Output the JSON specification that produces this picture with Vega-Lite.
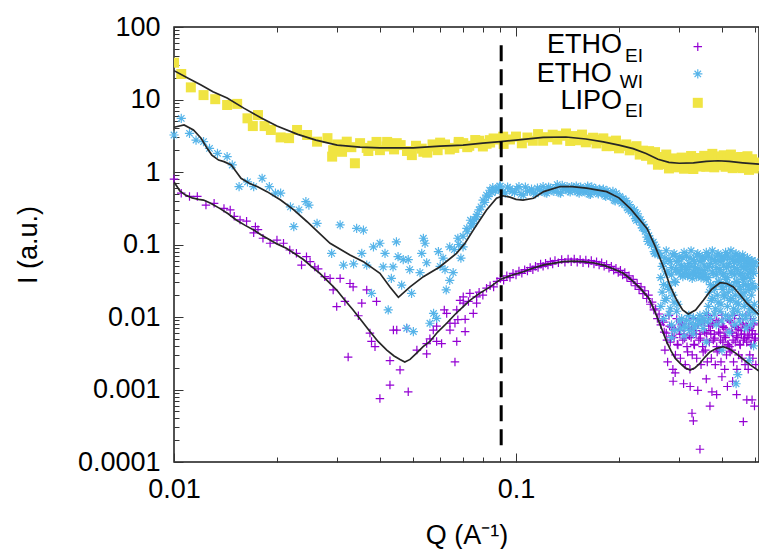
{
"$schema": "https://vega.github.io/schema/vega-lite/v6.json",
"width": 585, "height": 435,
"autosize": "none",
"padding": {"left": 174, "top": 27, "right": 0, "bottom": 87},
"background": "white",
"config": {"font": "Liberation Sans", "view": {"stroke": "#1a1a1a", "strokeWidth": 1.5},
  "axis": {"labelFont": "Liberation Sans", "labelFontSize": 27, "titleFont": "Liberation Sans", "titleFontSize": 27, "titleFontWeight": "normal", "labelColor": "#000", "titleColor": "#000", "grid": false, "domain": false, "tickColor": "#333", "tickWidth": 1}},
"datasets": {
"ei": [
{"q":0.0100,"i":0.80},{"q":0.0105,"i":0.51},{"q":0.0111,"i":0.46},{"q":0.0117,"i":0.46},{"q":0.0124,"i":0.35},{"q":0.0131,"i":0.37},{"q":0.0140,"i":0.315},{"q":0.0146,"i":0.30},{"q":0.0150,"i":0.245},{"q":0.0156,"i":0.218},{"q":0.0163,"i":0.21},{"q":0.0171,"i":0.145},{"q":0.0173,"i":0.176},{"q":0.0176,"i":0.16},{"q":0.0182,"i":0.122},{"q":0.0191,"i":0.104},{"q":0.0200,"i":0.115},{"q":0.0209,"i":0.104},{"q":0.0218,"i":0.084},{"q":0.0228,"i":0.0755},{"q":0.0236,"i":0.052},{"q":0.0244,"i":0.068},{"q":0.0250,"i":0.058},{"q":0.0258,"i":0.049},{"q":0.0264,"i":0.046},{"q":0.0276,"i":0.036},{"q":0.0286,"i":0.034},{"q":0.0292,"i":0.0236},{"q":0.0299,"i":0.0139},{"q":0.0306,"i":0.034},{"q":0.0316,"i":0.0164},{"q":0.0323,"i":0.0028},{"q":0.0327,"i":0.029},{"q":0.0334,"i":0.026},{"q":0.0346,"i":0.0104},{"q":0.0354,"i":0.0155},{"q":0.0366,"i":0.0236},{"q":0.0374,"i":0.006},{"q":0.0378,"i":0.0046},{"q":0.0387,"i":0.0039},{"q":0.0391,"i":0.0164},{"q":0.0400,"i":0.00075},{"q":0.0428,"i":0.00115},{"q":0.0428,"i":0.0025},{"q":0.0438,"i":0.0066},{"q":0.0448,"i":0.0066},{"q":0.0458,"i":0.00186},{"q":0.0479,"i":0.007},{"q":0.0484,"i":0.00093},{"q":0.0513,"i":0.0035},{"q":0.0548,"i":0.0031},{"q":0.0548,"i":0.0043},{"q":0.0560,"i":0.005},{"q":0.0573,"i":0.0066},{"q":0.0586,"i":0.0046},{"q":0.0586,"i":0.0075},{"q":0.0606,"i":0.0043},{"q":0.0617,"i":0.0125},{"q":0.0627,"i":0.0112},{"q":0.0641,"i":0.0066},{"q":0.0641,"i":0.0082},{"q":0.0663,"i":0.0082},{"q":0.0663,"i":0.0024},{"q":0.0671,"i":0.0046},{"q":0.0671,"i":0.0125},{"q":0.0676,"i":0.0092},{"q":0.0686,"i":0.017},{"q":0.0701,"i":0.019},{"q":0.0701,"i":0.0155},{"q":0.0710,"i":0.0093},{"q":0.0710,"i":0.0063},{"q":0.0726,"i":0.0164},{"q":0.0733,"i":0.0212},{"q":0.0750,"i":0.0112},{"q":0.0767,"i":0.019},{"q":0.0767,"i":0.0155},
{"q":0.078,"i":0.022},{"q":0.080,"i":0.020},{"q":0.082,"i":0.025},{"q":0.084,"i":0.027},{"q":0.086,"i":0.026},{"q":0.088,"i":0.031},{"q":0.090,"i":0.034},{"q":0.092,"i":0.032},{"q":0.094,"i":0.037},{"q":0.096,"i":0.035},{"q":0.098,"i":0.040},{"q":0.100,"i":0.038},{"q":0.102,"i":0.043},{"q":0.104,"i":0.040},{"q":0.106,"i":0.045},{"q":0.108,"i":0.043},{"q":0.110,"i":0.048},{"q":0.112,"i":0.045},{"q":0.114,"i":0.050},{"q":0.116,"i":0.048},{"q":0.118,"i":0.054},{"q":0.120,"i":0.050},{"q":0.122,"i":0.055},{"q":0.124,"i":0.052},{"q":0.126,"i":0.058},{"q":0.128,"i":0.054},{"q":0.130,"i":0.060},{"q":0.133,"i":0.056},{"q":0.136,"i":0.062},{"q":0.139,"i":0.057},{"q":0.142,"i":0.063},{"q":0.145,"i":0.058},{"q":0.148,"i":0.063},{"q":0.151,"i":0.057},{"q":0.154,"i":0.062},{"q":0.157,"i":0.056},{"q":0.160,"i":0.061},{"q":0.163,"i":0.055},{"q":0.166,"i":0.060},{"q":0.169,"i":0.054},{"q":0.172,"i":0.058},{"q":0.175,"i":0.052},{"q":0.178,"i":0.056},{"q":0.181,"i":0.050},{"q":0.184,"i":0.053},{"q":0.187,"i":0.047},{"q":0.190,"i":0.050},{"q":0.193,"i":0.044},{"q":0.196,"i":0.047},{"q":0.199,"i":0.041},{"q":0.202,"i":0.044},{"q":0.205,"i":0.038},{"q":0.208,"i":0.041},{"q":0.211,"i":0.035},{"q":0.214,"i":0.037},{"q":0.217,"i":0.031},{"q":0.220,"i":0.033},{"q":0.223,"i":0.027},{"q":0.226,"i":0.029},{"q":0.229,"i":0.024},{"q":0.232,"i":0.026},{"q":0.235,"i":0.021},{"q":0.238,"i":0.023},{"q":0.241,"i":0.018},{"q":0.244,"i":0.020},{"q":0.247,"i":0.015},{"q":0.250,"i":0.016},{"q":0.253,"i":0.0125},{"q":0.256,"i":0.013},{"q":0.259,"i":0.0095},{"q":0.262,"i":0.011},{"q":0.265,"i":0.0078},{"q":0.268,"i":0.009},
{"q":0.270,"i":0.0085},{"q":0.2725,"i":0.0035},{"q":0.2712,"i":0.0062},
{"q":0.275,"i":0.006},{"q":0.2775,"i":0.0024},{"q":0.2762,"i":0.0048},
{"q":0.280,"i":0.0105},{"q":0.2825,"i":0.0045},{"q":0.2812,"i":0.0075},
{"q":0.285,"i":0.0072},{"q":0.2875,"i":0.0019},{"q":0.2862,"i":0.0055},
{"q":0.290,"i":0.0052},{"q":0.2925,"i":0.003},{"q":0.2912,"i":0.0068},
{"q":0.295,"i":0.0095},{"q":0.2975,"i":0.0041},{"q":0.2962,"i":0.0042},
{"q":0.300,"i":0.0065},{"q":0.3025,"i":0.0027},{"q":0.3012,"i":0.0058},
{"q":0.305,"i":0.0078},{"q":0.3075,"i":0.0048},{"q":0.3062,"i":0.0082},
{"q":0.310,"i":0.0058},{"q":0.3125,"i":0.0022},{"q":0.3112,"i":0.0051},
{"q":0.315,"i":0.009},{"q":0.3175,"i":0.0033},{"q":0.3162,"i":0.0039},
{"q":0.320,"i":0.0072},{"q":0.3225,"i":0.0019},{"q":0.3212,"i":0.0055},
{"q":0.325,"i":0.0052},{"q":0.3275,"i":0.003},{"q":0.3262,"i":0.0068},
{"q":0.330,"i":0.0095},{"q":0.3325,"i":0.0041},{"q":0.3312,"i":0.0042},
{"q":0.335,"i":0.0065},{"q":0.3375,"i":0.0027},{"q":0.3362,"i":0.0058},
{"q":0.340,"i":0.0078},{"q":0.3425,"i":0.0048},{"q":0.3412,"i":0.0082},
{"q":0.345,"i":0.0058},{"q":0.3475,"i":0.0022},{"q":0.3462,"i":0.0051},
{"q":0.350,"i":0.009},{"q":0.3525,"i":0.0033},{"q":0.3512,"i":0.0039},
{"q":0.355,"i":0.0085},{"q":0.3575,"i":0.0035},{"q":0.3562,"i":0.0062},
{"q":0.360,"i":0.006},{"q":0.3625,"i":0.0024},{"q":0.3612,"i":0.0048},
{"q":0.365,"i":0.0105},{"q":0.3675,"i":0.0045},{"q":0.3662,"i":0.0075},
{"q":0.370,"i":0.0065},{"q":0.3725,"i":0.0027},{"q":0.3712,"i":0.0058},
{"q":0.375,"i":0.0078},{"q":0.3775,"i":0.0048},{"q":0.3762,"i":0.0082},
{"q":0.380,"i":0.0058},{"q":0.3825,"i":0.0022},{"q":0.3812,"i":0.0051},
{"q":0.385,"i":0.009},{"q":0.3875,"i":0.0033},{"q":0.3862,"i":0.0039},
{"q":0.390,"i":0.0085},{"q":0.3925,"i":0.0035},{"q":0.3912,"i":0.0062},
{"q":0.395,"i":0.006},{"q":0.3975,"i":0.0024},{"q":0.3962,"i":0.0048},
{"q":0.400,"i":0.0105},{"q":0.4025,"i":0.0045},{"q":0.4012,"i":0.0075},
{"q":0.405,"i":0.0072},{"q":0.4075,"i":0.0019},{"q":0.4062,"i":0.0055},
{"q":0.410,"i":0.0052},{"q":0.4125,"i":0.003},{"q":0.4112,"i":0.0068},
{"q":0.415,"i":0.0095},{"q":0.4175,"i":0.0041},{"q":0.4162,"i":0.0042},
{"q":0.420,"i":0.009},{"q":0.4225,"i":0.0033},{"q":0.4212,"i":0.0039},
{"q":0.425,"i":0.0085},{"q":0.4275,"i":0.0035},{"q":0.4262,"i":0.0062},
{"q":0.430,"i":0.006},{"q":0.4325,"i":0.0024},{"q":0.4312,"i":0.0048},
{"q":0.435,"i":0.0105},{"q":0.4375,"i":0.0045},{"q":0.4362,"i":0.0075},
{"q":0.440,"i":0.0072},{"q":0.4425,"i":0.0019},{"q":0.4412,"i":0.0055},
{"q":0.445,"i":0.0052},{"q":0.4475,"i":0.003},{"q":0.4462,"i":0.0068},
{"q":0.450,"i":0.0095},{"q":0.4525,"i":0.0041},{"q":0.4512,"i":0.0042},
{"q":0.455,"i":0.0065},{"q":0.4575,"i":0.0027},{"q":0.4562,"i":0.0058},
{"q":0.460,"i":0.0078},{"q":0.4625,"i":0.0048},{"q":0.4612,"i":0.0082},
{"q":0.465,"i":0.0058},{"q":0.4675,"i":0.0022},{"q":0.4662,"i":0.0051},
{"q":0.470,"i":0.0105},{"q":0.4725,"i":0.0045},{"q":0.4712,"i":0.0075},
{"q":0.475,"i":0.0072},{"q":0.4775,"i":0.0019},{"q":0.4762,"i":0.0055},
{"q":0.480,"i":0.0052},{"q":0.4825,"i":0.003},{"q":0.4812,"i":0.0068},
{"q":0.485,"i":0.0095},{"q":0.4875,"i":0.0041},{"q":0.4862,"i":0.0042},
{"q":0.490,"i":0.0065},{"q":0.4925,"i":0.0027},{"q":0.4912,"i":0.0058},
{"q":0.495,"i":0.0078},{"q":0.4975,"i":0.0048},{"q":0.4962,"i":0.0082},
{"q":0.500,"i":0.0058},{"q":0.5025,"i":0.0022},{"q":0.5012,"i":0.0051},
{"q":0.288,"i":0.0013},{"q":0.327,"i":0.00047},{"q":0.330,"i":0.00037},{"q":0.345,"i":0.00015},{"q":0.369,"i":0.00059},{"q":0.462,"i":0.00036},{"q":0.473,"i":0.00072},{"q":0.498,"i":0.00059},{"q":0.309,"i":0.0012},{"q":0.323,"i":0.0011},{"q":0.340,"i":0.00097},{"q":0.374,"i":0.00093},{"q":0.386,"i":0.00085},{"q":0.4416,"i":0.00085},{"q":0.490,"i":0.00072},{"q":0.292,"i":0.0017},{"q":0.400,"i":0.0015},{"q":0.430,"i":0.0013},{"q":0.360,"i":0.0014},{"q":0.415,"i":0.0011}
],
"wi": [
{"q":0.0100,"i":3.24},{"q":0.0105,"i":5.5},{"q":0.0111,"i":3.42},{"q":0.0116,"i":2.76},{"q":0.0122,"i":2.62},{"q":0.0127,"i":2.12},{"q":0.0134,"i":1.81},{"q":0.0143,"i":1.63},{"q":0.0148,"i":1.25},{"q":0.0155,"i":0.63},{"q":0.0164,"i":0.73},{"q":0.0171,"i":0.63},{"q":0.0181,"i":0.82},{"q":0.0190,"i":0.63},{"q":0.0198,"i":0.51},{"q":0.0205,"i":0.51},{"q":0.0219,"i":0.33},{"q":0.0224,"i":0.176},{"q":0.0232,"i":0.30},{"q":0.0243,"i":0.39},{"q":0.0248,"i":0.35},{"q":0.0262,"i":0.196},{"q":0.0289,"i":0.0755},{"q":0.0306,"i":0.186},{"q":0.0313,"i":0.052},{"q":0.0335,"i":0.054},{"q":0.0342,"i":0.167},{"q":0.0354,"i":0.0755},{"q":0.0358,"i":0.158},{"q":0.0366,"i":0.052},{"q":0.0378,"i":0.0212},{"q":0.0383,"i":0.093},{"q":0.0400,"i":0.104},{"q":0.0409,"i":0.049},{"q":0.0414,"i":0.0755},{"q":0.0423,"i":0.0125},{"q":0.0432,"i":0.034},{"q":0.0437,"i":0.049},{"q":0.0447,"i":0.109},{"q":0.0452,"i":0.068},{"q":0.0463,"i":0.0276},{"q":0.0468,"i":0.062},{"q":0.0479,"i":0.007},{"q":0.0484,"i":0.062},{"q":0.0489,"i":0.045},{"q":0.0495,"i":0.0212},{"q":0.0501,"i":0.0063},{"q":0.0524,"i":0.041},{"q":0.0530,"i":0.0755},{"q":0.0536,"i":0.122},{"q":0.0542,"i":0.104},{"q":0.0548,"i":0.056},{"q":0.0560,"i":0.0082},{"q":0.0574,"i":0.0112},{"q":0.0586,"i":0.0096},{"q":0.0593,"i":0.08},{"q":0.0600,"i":0.05},{"q":0.0612,"i":0.065},{"q":0.0620,"i":0.045},{"q":0.0625,"i":0.0236},{"q":0.0640,"i":0.093},{"q":0.0640,"i":0.032},{"q":0.0655,"i":0.041},{"q":0.0660,"i":0.085},{"q":0.0676,"i":0.122},{"q":0.0680,"i":0.10},{"q":0.0690,"i":0.065},{"q":0.0700,"i":0.093},{"q":0.0700,"i":0.13},{"q":0.0718,"i":0.167},{"q":0.0720,"i":0.15},{"q":0.0736,"i":0.216},{"q":0.0740,"i":0.18},{"q":0.0750,"i":0.196},{"q":0.0755,"i":0.22},{"q":0.0767,"i":0.24},{"q":0.0770,"i":0.26},{"q":0.0780,"i":0.30},{"q":0.0790,"i":0.33},{"q":0.0801,"i":0.41},{"q":0.0810,"i":0.38},{"q":0.0820,"i":0.48},{"q":0.0830,"i":0.46},{"q":0.0838,"i":0.56},{"q":0.0850,"i":0.52},{"q":0.0855,"i":0.61},{"q":0.0870,"i":0.55},{"q":0.0875,"i":0.58},{"q":0.0890,"i":0.58},{"q":0.0895,"i":0.64},
{"q":0.090,"i":0.64},{"q":0.093,"i":0.51},{"q":0.096,"i":0.59},{"q":0.099,"i":0.52},{"q":0.102,"i":0.63},{"q":0.105,"i":0.48},{"q":0.108,"i":0.545},{"q":0.111,"i":0.58},{"q":0.114,"i":0.50},{"q":0.117,"i":0.57},{"q":0.120,"i":0.63},{"q":0.123,"i":0.51},{"q":0.126,"i":0.60},{"q":0.129,"i":0.54},{"q":0.132,"i":0.67},{"q":0.135,"i":0.51},{"q":0.138,"i":0.58},{"q":0.141,"i":0.63},{"q":0.144,"i":0.53},{"q":0.147,"i":0.59},{"q":0.150,"i":0.64},{"q":0.153,"i":0.51},{"q":0.156,"i":0.59},{"q":0.159,"i":0.53},{"q":0.162,"i":0.64},{"q":0.165,"i":0.49},{"q":0.168,"i":0.55},{"q":0.171,"i":0.59},{"q":0.174,"i":0.50},{"q":0.177,"i":0.55},{"q":0.180,"i":0.58},{"q":0.183,"i":0.46},{"q":0.186,"i":0.525},{"q":0.189,"i":0.46},{"q":0.192,"i":0.54},{"q":0.195,"i":0.40},{"q":0.198,"i":0.44},{"q":0.201,"i":0.46},{"q":0.204,"i":0.37},{"q":0.207,"i":0.40},{"q":0.210,"i":0.40},{"q":0.213,"i":0.30},{"q":0.216,"i":0.325},{"q":0.219,"i":0.27},{"q":0.222,"i":0.30},{"q":0.225,"i":0.215},{"q":0.228,"i":0.225},{"q":0.231,"i":0.22},{"q":0.234,"i":0.17},{"q":0.237,"i":0.17},{"q":0.240,"i":0.16},{"q":0.243,"i":0.11},{"q":0.246,"i":0.12},{"q":0.249,"i":0.098},{"q":0.252,"i":0.108},{"q":0.255,"i":0.075},{"q":0.258,"i":0.077},{"q":0.261,"i":0.076},
{"q":0.0915,"i":0.53},{"q":0.0945,"i":0.62},{"q":0.0975,"i":0.54},{"q":0.1005,"i":0.585},{"q":0.1035,"i":0.49},{"q":0.1065,"i":0.62},{"q":0.1095,"i":0.55},{"q":0.1125,"i":0.515},{"q":0.1155,"i":0.60},{"q":0.1185,"i":0.545},{"q":0.1215,"i":0.52},{"q":0.1245,"i":0.62},{"q":0.1275,"i":0.555},{"q":0.1305,"i":0.61},{"q":0.1335,"i":0.52},{"q":0.1365,"i":0.655},{"q":0.1395,"i":0.585},{"q":0.1425,"i":0.55},{"q":0.1455,"i":0.63},{"q":0.1485,"i":0.56},{"q":0.1515,"i":0.53},{"q":0.1545,"i":0.62},{"q":0.1575,"i":0.545},{"q":0.1605,"i":0.59},{"q":0.1635,"i":0.495},{"q":0.1665,"i":0.625},{"q":0.1695,"i":0.555},{"q":0.1725,"i":0.52},{"q":0.1755,"i":0.58},{"q":0.1785,"i":0.515},{"q":0.1815,"i":0.48},{"q":0.1845,"i":0.555},{"q":0.1875,"i":0.48},{"q":0.1905,"i":0.505},{"q":0.1935,"i":0.41},{"q":0.1965,"i":0.505},{"q":0.1995,"i":0.435},{"q":0.2025,"i":0.395},{"q":0.2055,"i":0.43},{"q":0.2085,"i":0.365},{"q":0.2115,"i":0.32},{"q":0.2145,"i":0.355},{"q":0.2175,"i":0.29},{"q":0.2205,"i":0.29},{"q":0.2235,"i":0.227},{"q":0.2265,"i":0.265},{"q":0.2295,"i":0.217},{"q":0.2325,"i":0.185},{"q":0.2355,"i":0.19},{"q":0.2385,"i":0.152},{"q":0.2415,"i":0.126},{"q":0.2445,"i":0.132},{"q":0.2475,"i":0.107},{"q":0.2505,"i":0.105},{"q":0.2535,"i":0.08},{"q":0.2565,"i":0.092},{"q":0.2595,"i":0.075},
{"q":0.265,"i":0.07},{"q":0.265,"i":0.035},{"q":0.265,"i":0.014},
{"q":0.270,"i":0.055},{"q":0.270,"i":0.028},{"q":0.270,"i":0.0095},
{"q":0.275,"i":0.082},{"q":0.275,"i":0.042},{"q":0.275,"i":0.018},
{"q":0.280,"i":0.062},{"q":0.280,"i":0.024},{"q":0.280,"i":0.011},
{"q":0.285,"i":0.048},{"q":0.285,"i":0.038},{"q":0.285,"i":0.0078},
{"q":0.290,"i":0.075},{"q":0.290,"i":0.031},{"q":0.290,"i":0.016},
{"q":0.295,"i":0.058},{"q":0.295,"i":0.045},{"q":0.295,"i":0.012},
{"q":0.300,"i":0.068},{"q":0.300,"i":0.042},{"q":0.300,"i":0.0088},
{"q":0.305,"i":0.052},{"q":0.305,"i":0.048},{"q":0.305,"i":0.0095},
{"q":0.310,"i":0.078},{"q":0.310,"i":0.04},{"q":0.310,"i":0.0075},
{"q":0.315,"i":0.07},{"q":0.315,"i":0.045},{"q":0.315,"i":0.009},
{"q":0.320,"i":0.055},{"q":0.320,"i":0.038},{"q":0.320,"i":0.0105},
{"q":0.325,"i":0.082},{"q":0.325,"i":0.05},{"q":0.325,"i":0.0082},
{"q":0.330,"i":0.062},{"q":0.330,"i":0.042},{"q":0.330,"i":0.0098},
{"q":0.335,"i":0.048},{"q":0.335,"i":0.038},{"q":0.335,"i":0.0078},
{"q":0.340,"i":0.075},{"q":0.340,"i":0.046},{"q":0.340,"i":0.0092},
{"q":0.345,"i":0.058},{"q":0.345,"i":0.04},{"q":0.345,"i":0.0105},
{"q":0.350,"i":0.068},{"q":0.350,"i":0.036},{"q":0.350,"i":0.0085},
{"q":0.355,"i":0.052},{"q":0.355,"i":0.044},{"q":0.355,"i":0.0095},
{"q":0.360,"i":0.078},{"q":0.360,"i":0.033},{"q":0.360,"i":0.0112},
{"q":0.365,"i":0.07},{"q":0.365,"i":0.035},{"q":0.365,"i":0.014},
{"q":0.370,"i":0.055},{"q":0.370,"i":0.028},{"q":0.370,"i":0.0095},
{"q":0.375,"i":0.082},{"q":0.375,"i":0.042},{"q":0.375,"i":0.018},
{"q":0.380,"i":0.062},{"q":0.380,"i":0.024},{"q":0.380,"i":0.011},
{"q":0.385,"i":0.048},{"q":0.385,"i":0.038},{"q":0.385,"i":0.0078},
{"q":0.390,"i":0.075},{"q":0.390,"i":0.031},{"q":0.390,"i":0.016},
{"q":0.395,"i":0.058},{"q":0.395,"i":0.045},{"q":0.395,"i":0.012},
{"q":0.400,"i":0.068},{"q":0.400,"i":0.026},{"q":0.400,"i":0.0088},
{"q":0.405,"i":0.052},{"q":0.405,"i":0.04},{"q":0.405,"i":0.02},
{"q":0.410,"i":0.078},{"q":0.410,"i":0.033},{"q":0.410,"i":0.0105},
{"q":0.415,"i":0.07},{"q":0.415,"i":0.035},{"q":0.415,"i":0.014},
{"q":0.420,"i":0.055},{"q":0.420,"i":0.028},{"q":0.420,"i":0.0095},
{"q":0.425,"i":0.082},{"q":0.425,"i":0.042},{"q":0.425,"i":0.018},
{"q":0.430,"i":0.062},{"q":0.430,"i":0.024},{"q":0.430,"i":0.011},
{"q":0.435,"i":0.048},{"q":0.435,"i":0.038},{"q":0.435,"i":0.0078},
{"q":0.440,"i":0.075},{"q":0.440,"i":0.031},{"q":0.440,"i":0.016},
{"q":0.445,"i":0.058},{"q":0.445,"i":0.045},{"q":0.445,"i":0.012},
{"q":0.450,"i":0.068},{"q":0.450,"i":0.026},{"q":0.450,"i":0.0088},
{"q":0.455,"i":0.052},{"q":0.455,"i":0.04},{"q":0.455,"i":0.02},
{"q":0.460,"i":0.072},{"q":0.460,"i":0.033},{"q":0.460,"i":0.0105},
{"q":0.465,"i":0.062},{"q":0.465,"i":0.035},{"q":0.465,"i":0.014},
{"q":0.470,"i":0.05},{"q":0.470,"i":0.028},{"q":0.470,"i":0.0095},
{"q":0.475,"i":0.066},{"q":0.475,"i":0.038},{"q":0.475,"i":0.016},
{"q":0.480,"i":0.055},{"q":0.480,"i":0.024},{"q":0.480,"i":0.011},
{"q":0.485,"i":0.045},{"q":0.485,"i":0.034},{"q":0.485,"i":0.0078},
{"q":0.490,"i":0.06},{"q":0.490,"i":0.029},{"q":0.490,"i":0.013},
{"q":0.495,"i":0.05},{"q":0.495,"i":0.04},{"q":0.495,"i":0.009},
{"q":0.500,"i":0.058},{"q":0.500,"i":0.026},{"q":0.500,"i":0.0115},
{"q":0.2675,"i":0.05},{"q":0.2675,"i":0.022},{"q":0.2725,"i":0.065},{"q":0.2725,"i":0.017},{"q":0.2775,"i":0.04},{"q":0.2775,"i":0.027},{"q":0.2825,"i":0.058},{"q":0.2825,"i":0.013},{"q":0.2875,"i":0.072},{"q":0.2875,"i":0.02},{"q":0.2925,"i":0.045},{"q":0.2925,"i":0.03},{"q":0.2975,"i":0.06},{"q":0.2975,"i":0.015},{"q":0.3025,"i":0.038},{"q":0.3025,"i":0.0068},{"q":0.3075,"i":0.066},{"q":0.3075,"i":0.036},{"q":0.3125,"i":0.048},{"q":0.3125,"i":0.0072},{"q":0.3175,"i":0.05},{"q":0.3175,"i":0.037},{"q":0.3225,"i":0.065},{"q":0.3225,"i":0.0065},{"q":0.3275,"i":0.04},{"q":0.3275,"i":0.034},{"q":0.3325,"i":0.058},{"q":0.3325,"i":0.0071},{"q":0.3375,"i":0.072},{"q":0.3375,"i":0.036},{"q":0.3425,"i":0.045},{"q":0.3425,"i":0.0082},{"q":0.3475,"i":0.06},{"q":0.3475,"i":0.035},{"q":0.3525,"i":0.038},{"q":0.3525,"i":0.0069},{"q":0.3575,"i":0.066},{"q":0.3575,"i":0.039},{"q":0.3625,"i":0.048},{"q":0.3625,"i":0.0085},{"q":0.3675,"i":0.05},{"q":0.3675,"i":0.022},{"q":0.3725,"i":0.065},{"q":0.3725,"i":0.017},{"q":0.3775,"i":0.04},{"q":0.3775,"i":0.027},{"q":0.3825,"i":0.058},{"q":0.3825,"i":0.013},{"q":0.3875,"i":0.072},{"q":0.3875,"i":0.02},{"q":0.3925,"i":0.045},{"q":0.3925,"i":0.03},{"q":0.3975,"i":0.06},{"q":0.3975,"i":0.015},{"q":0.4025,"i":0.038},{"q":0.4025,"i":0.024},{"q":0.4075,"i":0.066},{"q":0.4075,"i":0.019},{"q":0.4125,"i":0.048},{"q":0.4125,"i":0.028},{"q":0.4175,"i":0.05},{"q":0.4175,"i":0.022},{"q":0.4225,"i":0.065},{"q":0.4225,"i":0.017},{"q":0.4275,"i":0.04},{"q":0.4275,"i":0.027},{"q":0.4325,"i":0.058},{"q":0.4325,"i":0.013},{"q":0.4375,"i":0.072},{"q":0.4375,"i":0.02},{"q":0.4425,"i":0.045},{"q":0.4425,"i":0.03},{"q":0.4475,"i":0.06},{"q":0.4475,"i":0.015},{"q":0.4525,"i":0.038},{"q":0.4525,"i":0.024},{"q":0.4575,"i":0.062},{"q":0.4575,"i":0.019},{"q":0.4625,"i":0.048},{"q":0.4625,"i":0.028},{"q":0.4675,"i":0.046},{"q":0.4675,"i":0.022},{"q":0.4725,"i":0.058},{"q":0.4725,"i":0.017},{"q":0.4775,"i":0.04},{"q":0.4775,"i":0.027},{"q":0.4825,"i":0.052},{"q":0.4825,"i":0.013},{"q":0.4875,"i":0.06},{"q":0.4875,"i":0.02},{"q":0.4925,"i":0.042},{"q":0.4925,"i":0.025},{"q":0.4975,"i":0.052},{"q":0.4975,"i":0.015},
{"q":0.29,"i":0.0065},{"q":0.31,"i":0.0055},{"q":0.36,"i":0.0045},{"q":0.40,"i":0.0035},{"q":0.44,"i":0.0012},{"q":0.445,"i":0.0016},{"q":0.48,"i":0.0025},{"q":0.495,"i":0.004},{"q":0.42,"i":0.0062},{"q":0.47,"i":0.007},{"q":0.33,"i":0.0058},{"q":0.285,"i":0.0052}
],
"lipo": [
{"q":0.0100,"i":32.2},{"q":0.0105,"i":22.5},{"q":0.0112,"i":14.7},{"q":0.0122,"i":11.5},{"q":0.0132,"i":10.1},{"q":0.0143,"i":8.4},{"q":0.0153,"i":8.7},{"q":0.0164,"i":5.5},{"q":0.0170,"i":4.3},{"q":0.0176,"i":6.1},{"q":0.0184,"i":4.3},{"q":0.0192,"i":3.8},{"q":0.0205,"i":3.0},{"q":0.0217,"i":2.93},{"q":0.0229,"i":3.8},{"q":0.0245,"i":3.24},{"q":0.0262,"i":2.62},{"q":0.0281,"i":2.93},{"q":0.0290,"i":1.63},{"q":0.0292,"i":2.0},{"q":0.0320,"i":2.62},{"q":0.0338,"i":1.32},{"q":0.0366,"i":2.15},{"q":0.0391,"i":2.6},{"q":0.0418,"i":2.25},{"q":0.0448,"i":2.5},{"q":0.0496,"i":1.71},{"q":0.0536,"i":1.9},{"q":0.0586,"i":2.25},{"q":0.0641,"i":2.12},{"q":0.0701,"i":2.5},{"q":0.0767,"i":2.5},{"q":0.0838,"i":2.75},{"q":0.0917,"i":3.07},
{"q":0.030,"i":2.4},{"q":0.031,"i":1.9},{"q":0.033,"i":2.2},{"q":0.035,"i":2.5},{"q":0.037,"i":1.95},{"q":0.038,"i":2.3},{"q":0.040,"i":2.0},{"q":0.042,"i":2.6},{"q":0.044,"i":2.05},{"q":0.046,"i":2.35},{"q":0.048,"i":1.95},{"q":0.051,"i":2.3},{"q":0.053,"i":2.1},{"q":0.055,"i":1.85},{"q":0.057,"i":2.4},{"q":0.059,"i":2.0},{"q":0.062,"i":2.4},{"q":0.066,"i":2.15},{"q":0.068,"i":2.6},{"q":0.073,"i":2.3},{"q":0.078,"i":2.7},{"q":0.082,"i":2.45},{"q":0.086,"i":2.9},
{"q":0.060,"i":2.54},{"q":0.064,"i":2.05},{"q":0.068,"i":2.45},{"q":0.072,"i":2.20},{"q":0.076,"i":2.76},{"q":0.080,"i":2.25},{"q":0.084,"i":2.55},{"q":0.088,"i":2.81},{"q":0.092,"i":2.44},{"q":0.096,"i":2.81},{"q":0.100,"i":3.08},{"q":0.104,"i":2.49},{"q":0.108,"i":2.99},{"q":0.112,"i":2.70},{"q":0.116,"i":3.33},{"q":0.120,"i":2.70},{"q":0.124,"i":3.02},{"q":0.128,"i":3.27},{"q":0.132,"i":2.80},{"q":0.136,"i":3.16},{"q":0.140,"i":3.40},{"q":0.144,"i":2.68},{"q":0.148,"i":3.13},{"q":0.152,"i":2.74},{"q":0.156,"i":3.28},{"q":0.160,"i":2.57},{"q":0.164,"i":2.80},{"q":0.168,"i":2.97},{"q":0.172,"i":2.48},{"q":0.176,"i":2.76},{"q":0.180,"i":2.91},{"q":0.184,"i":2.27},{"q":0.188,"i":2.63},{"q":0.192,"i":2.28},{"q":0.196,"i":2.71},{"q":0.200,"i":2.12},{"q":0.205,"i":2.29},{"q":0.210,"i":2.40},{"q":0.215,"i":1.99},{"q":0.220,"i":2.18},{"q":0.225,"i":2.27},{"q":0.230,"i":1.74},{"q":0.235,"i":1.97},{"q":0.240,"i":1.67},{"q":0.245,"i":1.94},{"q":0.250,"i":1.49},
{"q":0.255,"i":1.88},{"q":0.260,"i":1.26},{"q":0.265,"i":1.61},{"q":0.270,"i":1.28},{"q":0.275,"i":1.74},{"q":0.280,"i":1.12},{"q":0.285,"i":1.35},{"q":0.290,"i":1.54},{"q":0.295,"i":1.16},{"q":0.300,"i":1.39},{"q":0.305,"i":1.58},{"q":0.310,"i":1.11},{"q":0.315,"i":1.46},{"q":0.320,"i":1.20},{"q":0.325,"i":1.66},{"q":0.330,"i":1.10},{"q":0.335,"i":1.35},{"q":0.340,"i":1.56},{"q":0.345,"i":1.19},{"q":0.350,"i":1.45},{"q":0.355,"i":1.67},{"q":0.360,"i":1.18},{"q":0.365,"i":1.55},{"q":0.370,"i":1.27},{"q":0.375,"i":1.78},{"q":0.380,"i":1.16},{"q":0.385,"i":1.43},{"q":0.390,"i":1.64},{"q":0.395,"i":1.24},{"q":0.400,"i":1.49},{"q":0.405,"i":1.70},{"q":0.410,"i":1.18},{"q":0.415,"i":1.55},{"q":0.420,"i":1.26},{"q":0.425,"i":1.74},{"q":0.430,"i":1.13},{"q":0.435,"i":1.37},{"q":0.440,"i":1.56},{"q":0.445,"i":1.17},{"q":0.450,"i":1.42},{"q":0.455,"i":1.61},{"q":0.460,"i":1.13},{"q":0.465,"i":1.46},{"q":0.470,"i":1.19},{"q":0.475,"i":1.65},{"q":0.480,"i":1.07},{"q":0.485,"i":1.30},{"q":0.490,"i":1.50},{"q":0.495,"i":1.12},{"q":0.500,"i":1.35},{"q":0.505,"i":1.2}
],
"fit": [
{"s":"lipo","q":0.010,"i":25},{"s":"lipo","q":0.011,"i":19.6},{"s":"lipo","q":0.012,"i":15.8},{"s":"lipo","q":0.013,"i":12.8},{"s":"lipo","q":0.0143,"i":10.5},{"s":"lipo","q":0.016,"i":7.6},{"s":"lipo","q":0.018,"i":5.56},{"s":"lipo","q":0.020,"i":4.3},{"s":"lipo","q":0.023,"i":3.3},{"s":"lipo","q":0.026,"i":2.75},{"s":"lipo","q":0.030,"i":2.35},{"s":"lipo","q":0.035,"i":2.2},{"s":"lipo","q":0.040,"i":2.15},{"s":"lipo","q":0.050,"i":2.15},{"s":"lipo","q":0.060,"i":2.27},{"s":"lipo","q":0.070,"i":2.35},{"s":"lipo","q":0.080,"i":2.5},{"s":"lipo","q":0.090,"i":2.63},{"s":"lipo","q":0.10,"i":2.75},{"s":"lipo","q":0.12,"i":3.0},{"s":"lipo","q":0.14,"i":3.04},{"s":"lipo","q":0.16,"i":2.85},{"s":"lipo","q":0.18,"i":2.6},{"s":"lipo","q":0.20,"i":2.35},{"s":"lipo","q":0.22,"i":2.1},{"s":"lipo","q":0.24,"i":1.8},{"s":"lipo","q":0.26,"i":1.5},{"s":"lipo","q":0.28,"i":1.36},{"s":"lipo","q":0.30,"i":1.32},{"s":"lipo","q":0.33,"i":1.34},{"s":"lipo","q":0.36,"i":1.4},{"s":"lipo","q":0.39,"i":1.43},{"s":"lipo","q":0.42,"i":1.40},{"s":"lipo","q":0.46,"i":1.34},{"s":"lipo","q":0.5134,"i":1.28},
{"s":"wi","q":0.0100,"i":4.14},{"s":"wi","q":0.0107,"i":4.45},{"s":"wi","q":0.0114,"i":3.80},{"s":"wi","q":0.0120,"i":2.92},{"s":"wi","q":0.0125,"i":2.12},{"s":"wi","q":0.0129,"i":1.71},{"s":"wi","q":0.0135,"i":1.46},{"s":"wi","q":0.0140,"i":1.39},{"s":"wi","q":0.0147,"i":1.25},{"s":"wi","q":0.0152,"i":1.01},{"s":"wi","q":0.0157,"i":0.82},{"s":"wi","q":0.0166,"i":0.70},{"s":"wi","q":0.0175,"i":0.63},{"s":"wi","q":0.0187,"i":0.536},{"s":"wi","q":0.0205,"i":0.41},{"s":"wi","q":0.0224,"i":0.30},{"s":"wi","q":0.0245,"i":0.206},{"s":"wi","q":0.0257,"i":0.167},{"s":"wi","q":0.0286,"i":0.104},{"s":"wi","q":0.0327,"i":0.0716},{"s":"wi","q":0.0358,"i":0.058},{"s":"wi","q":0.0400,"i":0.040},{"s":"wi","q":0.0428,"i":0.026},{"s":"wi","q":0.0453,"i":0.0187},{"s":"wi","q":0.0490,"i":0.026},{"s":"wi","q":0.0536,"i":0.036},{"s":"wi","q":0.0598,"i":0.049},{"s":"wi","q":0.0670,"i":0.0755},{"s":"wi","q":0.0710,"i":0.105},{"s":"wi","q":0.0750,"i":0.158},{"s":"wi","q":0.0785,"i":0.22},{"s":"wi","q":0.0820,"i":0.30},{"s":"wi","q":0.0877,"i":0.434},{"s":"wi","q":0.0915,"i":0.47},{"s":"wi","q":0.0960,"i":0.45},{"s":"wi","q":0.1000,"i":0.42},{"s":"wi","q":0.1048,"i":0.41},{"s":"wi","q":0.1125,"i":0.434},{"s":"wi","q":0.1205,"i":0.536},{"s":"wi","q":0.1346,"i":0.63},{"s":"wi","q":0.1460,"i":0.63},{"s":"wi","q":0.1608,"i":0.60},{"s":"wi","q":0.1841,"i":0.536},{"s":"wi","q":0.2000,"i":0.44},{"s":"wi","q":0.2163,"i":0.31},{"s":"wi","q":0.2300,"i":0.22},{"s":"wi","q":0.2417,"i":0.165},{"s":"wi","q":0.2550,"i":0.095},{"s":"wi","q":0.2698,"i":0.049},{"s":"wi","q":0.2820,"i":0.027},{"s":"wi","q":0.2952,"i":0.017},{"s":"wi","q":0.3070,"i":0.0125},{"s":"wi","q":0.3190,"i":0.011},{"s":"wi","q":0.3350,"i":0.0125},{"s":"wi","q":0.3530,"i":0.017},{"s":"wi","q":0.3730,"i":0.024},{"s":"wi","q":0.3950,"i":0.0297},{"s":"wi","q":0.4130,"i":0.029},{"s":"wi","q":0.4320,"i":0.026},{"s":"wi","q":0.4530,"i":0.020},{"s":"wi","q":0.4730,"i":0.0155},{"s":"wi","q":0.5134,"i":0.0108},
{"s":"ei","q":0.0100,"i":0.73},{"s":"ei","q":0.0104,"i":0.55},{"s":"ei","q":0.0108,"i":0.48},{"s":"ei","q":0.0113,"i":0.44},{"s":"ei","q":0.0118,"i":0.42},{"s":"ei","q":0.0122,"i":0.41},{"s":"ei","q":0.0128,"i":0.37},{"s":"ei","q":0.0136,"i":0.315},{"s":"ei","q":0.0144,"i":0.265},{"s":"ei","q":0.0152,"i":0.218},{"s":"ei","q":0.0161,"i":0.185},{"s":"ei","q":0.0171,"i":0.158},{"s":"ei","q":0.0180,"i":0.135},{"s":"ei","q":0.0191,"i":0.115},{"s":"ei","q":0.0200,"i":0.102},{"s":"ei","q":0.0213,"i":0.0887},{"s":"ei","q":0.0225,"i":0.075},{"s":"ei","q":0.0239,"i":0.062},{"s":"ei","q":0.0252,"i":0.05},{"s":"ei","q":0.0267,"i":0.040},{"s":"ei","q":0.0282,"i":0.031},{"s":"ei","q":0.0299,"i":0.0236},{"s":"ei","q":0.0316,"i":0.017},{"s":"ei","q":0.0334,"i":0.0125},{"s":"ei","q":0.0354,"i":0.0088},{"s":"ei","q":0.0374,"i":0.0063},{"s":"ei","q":0.0395,"i":0.0046},{"s":"ei","q":0.0419,"i":0.0035},{"s":"ei","q":0.0440,"i":0.0029},{"s":"ei","q":0.0458,"i":0.0026},{"s":"ei","q":0.0473,"i":0.0024},{"s":"ei","q":0.0490,"i":0.0026},{"s":"ei","q":0.0513,"i":0.0032},{"s":"ei","q":0.0535,"i":0.0039},{"s":"ei","q":0.0560,"i":0.0046},{"s":"ei","q":0.0590,"i":0.0062},{"s":"ei","q":0.0627,"i":0.0082},{"s":"ei","q":0.0665,"i":0.011},{"s":"ei","q":0.0701,"i":0.0139},{"s":"ei","q":0.0733,"i":0.017},{"s":"ei","q":0.0780,"i":0.021},{"s":"ei","q":0.0840,"i":0.026},{"s":"ei","q":0.0900,"i":0.033},{"s":"ei","q":0.0960,"i":0.037},{"s":"ei","q":0.1050,"i":0.042},{"s":"ei","q":0.1120,"i":0.047},{"s":"ei","q":0.1197,"i":0.052},{"s":"ei","q":0.1280,"i":0.055},{"s":"ei","q":0.1372,"i":0.058},{"s":"ei","q":0.1470,"i":0.059},{"s":"ei","q":0.1570,"i":0.058},{"s":"ei","q":0.1680,"i":0.056},{"s":"ei","q":0.1800,"i":0.052},{"s":"ei","q":0.1930,"i":0.046},{"s":"ei","q":0.2060,"i":0.040},{"s":"ei","q":0.2150,"i":0.034},{"s":"ei","q":0.2230,"i":0.029},{"s":"ei","q":0.2307,"i":0.025},{"s":"ei","q":0.2380,"i":0.021},{"s":"ei","q":0.2440,"i":0.0185},{"s":"ei","q":0.2500,"i":0.0145},{"s":"ei","q":0.2560,"i":0.0112},{"s":"ei","q":0.2620,"i":0.0085},{"s":"ei","q":0.2690,"i":0.0062},{"s":"ei","q":0.2760,"i":0.0045},{"s":"ei","q":0.2840,"i":0.0034},{"s":"ei","q":0.2920,"i":0.0027},{"s":"ei","q":0.3020,"i":0.0023},{"s":"ei","q":0.3120,"i":0.0020},{"s":"ei","q":0.3230,"i":0.00186},{"s":"ei","q":0.3340,"i":0.0020},{"s":"ei","q":0.3450,"i":0.0023},{"s":"ei","q":0.3570,"i":0.0028},{"s":"ei","q":0.3690,"i":0.0033},{"s":"ei","q":0.3860,"i":0.0037},{"s":"ei","q":0.4036,"i":0.0039},{"s":"ei","q":0.4220,"i":0.0036},{"s":"ei","q":0.4416,"i":0.0031},{"s":"ei","q":0.4620,"i":0.0026},{"s":"ei","q":0.4830,"i":0.0022},{"s":"ei","q":0.5134,"i":0.0018}
]
},
"resolve": {"axis": {"x": "independent"}},
"layer": [
{"data": {"name": "ei"},
 "mark": {"type": "point", "shape": "M-1,0L1,0M0,-1L0,1", "filled": false, "color": "#9400D3", "strokeWidth": 1.2, "size": 72, "opacity": 1},
 "encoding": {
  "x": {"field": "q", "type": "quantitative", "scale": {"type": "log", "domain": [0.01, 0.5134], "nice": false},
    "axis": {"orient": "bottom", "title": "Q (A⁻¹)", "values": [0.01,0.02,0.03,0.04,0.05,0.06,0.07,0.08,0.09,0.1,0.2,0.3,0.4,0.5], "format": "~g",
      "labelExpr": "abs(log(datum.value)/LN10 - round(log(datum.value)/LN10)) < 0.001 ? datum.label : ''",
      "tickSize": {"condition": {"test": "abs(log(datum.value)/LN10 - round(log(datum.value)/LN10)) < 0.001", "value": -9}, "value": -5},
      "labelPadding": 23, "labelFlush": false, "labelOverlap": false, "titlePadding": 16}},
  "y": {"field": "i", "type": "quantitative", "scale": {"type": "log", "domain": [0.0001, 100], "nice": false},
    "axis": {"title": "I (a.u.)", "values": [0.0001,0.0002,0.0003,0.0004,0.0005,0.0006,0.0007,0.0008,0.0009,0.001,0.002,0.003,0.004,0.005,0.006,0.007,0.008,0.009,0.01,0.02,0.03,0.04,0.05,0.06,0.07,0.08,0.09,0.1,0.2,0.3,0.4,0.5,0.6,0.7,0.8,0.9,1,2,3,4,5,6,7,8,9,10,20,30,40,50,60,70,80,90,100], "format": "~g",
      "labelExpr": "abs(log(datum.value)/LN10 - round(log(datum.value)/LN10)) < 0.001 ? datum.label : ''",
      "tickSize": {"condition": {"test": "abs(log(datum.value)/LN10 - round(log(datum.value)/LN10)) < 0.001", "value": -9}, "value": -5},
      "labelPadding": 23, "labelFlush": false, "labelOverlap": false, "titlePadding": 35}}
 }},
{"data": {"name": "wi"},
 "mark": {"type": "point", "shape": "M-1,0L1,0M0,-1L0,1M-0.7,-0.7L0.7,0.7M-0.7,0.7L0.7,-0.7", "filled": false, "color": "#56B4E9", "strokeWidth": 1.2, "size": 85, "opacity": 1},
 "encoding": {"x": {"field": "q", "type": "quantitative", "axis": null}, "y": {"field": "i", "type": "quantitative"}}},
{"data": {"name": "lipo"},
 "mark": {"type": "square", "filled": true, "color": "#F0E442", "size": 100, "opacity": 1, "clip": true},
 "encoding": {"x": {"field": "q", "type": "quantitative", "axis": null}, "y": {"field": "i", "type": "quantitative"}}},
{"data": {"name": "fit"},
 "mark": {"type": "line", "color": "#262626", "strokeWidth": 1.7, "clip": true},
 "encoding": {"x": {"field": "q", "type": "quantitative", "axis": null}, "y": {"field": "i", "type": "quantitative"}, "detail": {"field": "s"}}},
{"data": {"values": [{"q": 0.0905, "lo": 0.00017, "hi": 56}]},
 "mark": {"type": "rule", "color": "#000", "strokeWidth": 3, "strokeDash": [16, 8]},
 "encoding": {
  "x": {"field": "q", "type": "quantitative",
    "axis": {"orient": "top", "title": null, "labels": false, "values": [0.01,0.02,0.03,0.04,0.05,0.06,0.07,0.08,0.09,0.1,0.2,0.3,0.4,0.5],
      "tickSize": {"condition": {"test": "abs(log(datum.value)/LN10 - round(log(datum.value)/LN10)) < 0.001", "value": -9}, "value": -5}}},
  "y": {"field": "lo", "type": "quantitative"}, "y2": {"field": "hi"}}},
{"data": {"values": [{}]}, "mark": {"type": "text", "text": "ETHO", "align": "right", "baseline": "alphabetic", "fontSize": 27, "color": "#000"},
 "encoding": {"x": {"datum": 0.204, "type": "quantitative", "axis": null}, "y": {"datum": 43.3, "type": "quantitative"}}},
{"data": {"values": [{}]}, "mark": {"type": "text", "text": "EI", "align": "right", "baseline": "alphabetic", "fontSize": 19, "color": "#000"},
 "encoding": {"x": {"datum": 0.235, "type": "quantitative", "axis": null}, "y": {"datum": 33.2, "type": "quantitative"}}},
{"data": {"values": [{}]}, "mark": {"type": "text", "text": "ETHO", "align": "right", "baseline": "alphabetic", "fontSize": 27, "color": "#000"},
 "encoding": {"x": {"datum": 0.1906, "type": "quantitative", "axis": null}, "y": {"datum": 17.6, "type": "quantitative"}}},
{"data": {"values": [{}]}, "mark": {"type": "text", "text": "WI", "align": "right", "baseline": "alphabetic", "fontSize": 19, "color": "#000"},
 "encoding": {"x": {"datum": 0.235, "type": "quantitative", "axis": null}, "y": {"datum": 14.3, "type": "quantitative"}}},
{"data": {"values": [{}]}, "mark": {"type": "text", "text": "LIPO", "align": "right", "baseline": "alphabetic", "fontSize": 27, "color": "#000"},
 "encoding": {"x": {"datum": 0.204, "type": "quantitative", "axis": null}, "y": {"datum": 7.33, "type": "quantitative"}}},
{"data": {"values": [{}]}, "mark": {"type": "text", "text": "EI", "align": "right", "baseline": "alphabetic", "fontSize": 19, "color": "#000"},
 "encoding": {"x": {"datum": 0.235, "type": "quantitative", "axis": null}, "y": {"datum": 5.8, "type": "quantitative"}}},
{"data": {"values": [{}]}, "mark": {"type": "point", "shape": "M-1,0L1,0M0,-1L0,1", "filled": false, "color": "#9400D3", "strokeWidth": 1.2, "size": 72, "opacity": 1},
 "encoding": {"x": {"datum": 0.34, "type": "quantitative", "axis": null}, "y": {"datum": 53.5, "type": "quantitative"}}},
{"data": {"values": [{}]}, "mark": {"type": "point", "shape": "M-1,0L1,0M0,-1L0,1M-0.7,-0.7L0.7,0.7M-0.7,0.7L0.7,-0.7", "filled": false, "color": "#56B4E9", "strokeWidth": 1.2, "size": 85, "opacity": 1},
 "encoding": {"x": {"datum": 0.34, "type": "quantitative", "axis": null}, "y": {"datum": 22.5, "type": "quantitative"}}},
{"data": {"values": [{}]}, "mark": {"type": "square", "filled": true, "color": "#F0E442", "size": 100, "opacity": 1},
 "encoding": {"x": {"datum": 0.34, "type": "quantitative", "axis": null}, "y": {"datum": 9.0, "type": "quantitative"}}}
]
}
